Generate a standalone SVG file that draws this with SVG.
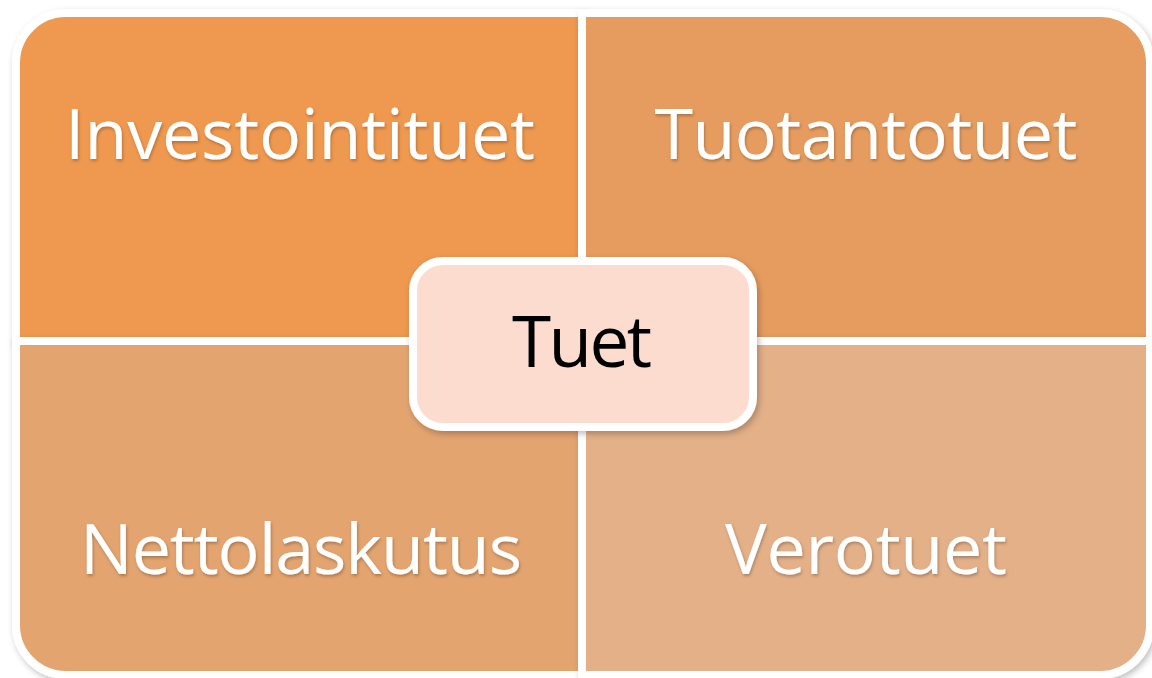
<svg xmlns="http://www.w3.org/2000/svg" width="1152" height="678" viewBox="0 0 1152 678">
  <defs>
    <filter id="shadow" x="-10%" y="-10%" width="120%" height="125%">
      <feDropShadow dx="2" dy="3" stdDeviation="3" flood-color="#000" flood-opacity="0.25"/>
    </filter>
    <filter id="textShadow" x="-5%" y="-20%" width="110%" height="140%">
      <feDropShadow dx="1" dy="2" stdDeviation="1.5" flood-color="#000" flood-opacity="0.25"/>
    </filter>
  </defs>
  <style>
    .quad { stroke: #ffffff; stroke-width: 8; stroke-linejoin: round; }
    .label { font-family: "Open Sans", "Noto Sans", "Liberation Sans", sans-serif; font-size: 70px; fill: #ffffff; text-anchor: middle; }
    .center-box { fill: #FCDCCF; stroke: #ffffff; stroke-width: 8; }
    .center-label { font-family: "Open Sans", "Noto Sans", "Liberation Sans", sans-serif; font-size: 71px; fill: #000000; text-anchor: middle; }
  </style>
  <rect width="1152" height="678" fill="#ffffff"/>

  <!-- four quadrants of the matrix -->
  <g id="investointituet" filter="url(#shadow)">
    <path class="quad" fill="#EF984F" d="M16,341 V63 A50,50 0 0 1 66,13 H582 V341 Z"/>
    <text class="label" x="300" y="159" textLength="470" lengthAdjust="spacing" filter="url(#textShadow)">Investointituet</text>
  </g>
  <g id="tuotantotuet" filter="url(#shadow)">
    <path class="quad" fill="#E69C5E" d="M582,13 H1100 A50,50 0 0 1 1150,63 V341 H582 Z"/>
    <text class="label" x="866" y="159" textLength="423" lengthAdjust="spacing" filter="url(#textShadow)">Tuotantotuet</text>
  </g>
  <g id="nettolaskutus" filter="url(#shadow)">
    <path class="quad" fill="#E3A46F" d="M16,341 H582 V675 H66 A50,50 0 0 1 16,625 Z"/>
    <text class="label" x="301" y="574" textLength="442" lengthAdjust="spacing" filter="url(#textShadow)">Nettolaskutus</text>
  </g>
  <g id="verotuet" filter="url(#shadow)">
    <path class="quad" fill="#E3B088" d="M582,341 H1150 V625 A50,50 0 0 1 1100,675 H582 Z"/>
    <text class="label" x="866" y="574" textLength="282" lengthAdjust="spacing" filter="url(#textShadow)">Verotuet</text>
  </g>

  <!-- central node -->
  <g id="tuet" filter="url(#shadow)">
    <rect class="center-box" x="413" y="261" width="340" height="166" rx="30" ry="30"/>
    <text class="center-label" x="582" y="367" textLength="140" lengthAdjust="spacing">Tuet</text>
  </g>

  <g id="connectors"/>
</svg>
